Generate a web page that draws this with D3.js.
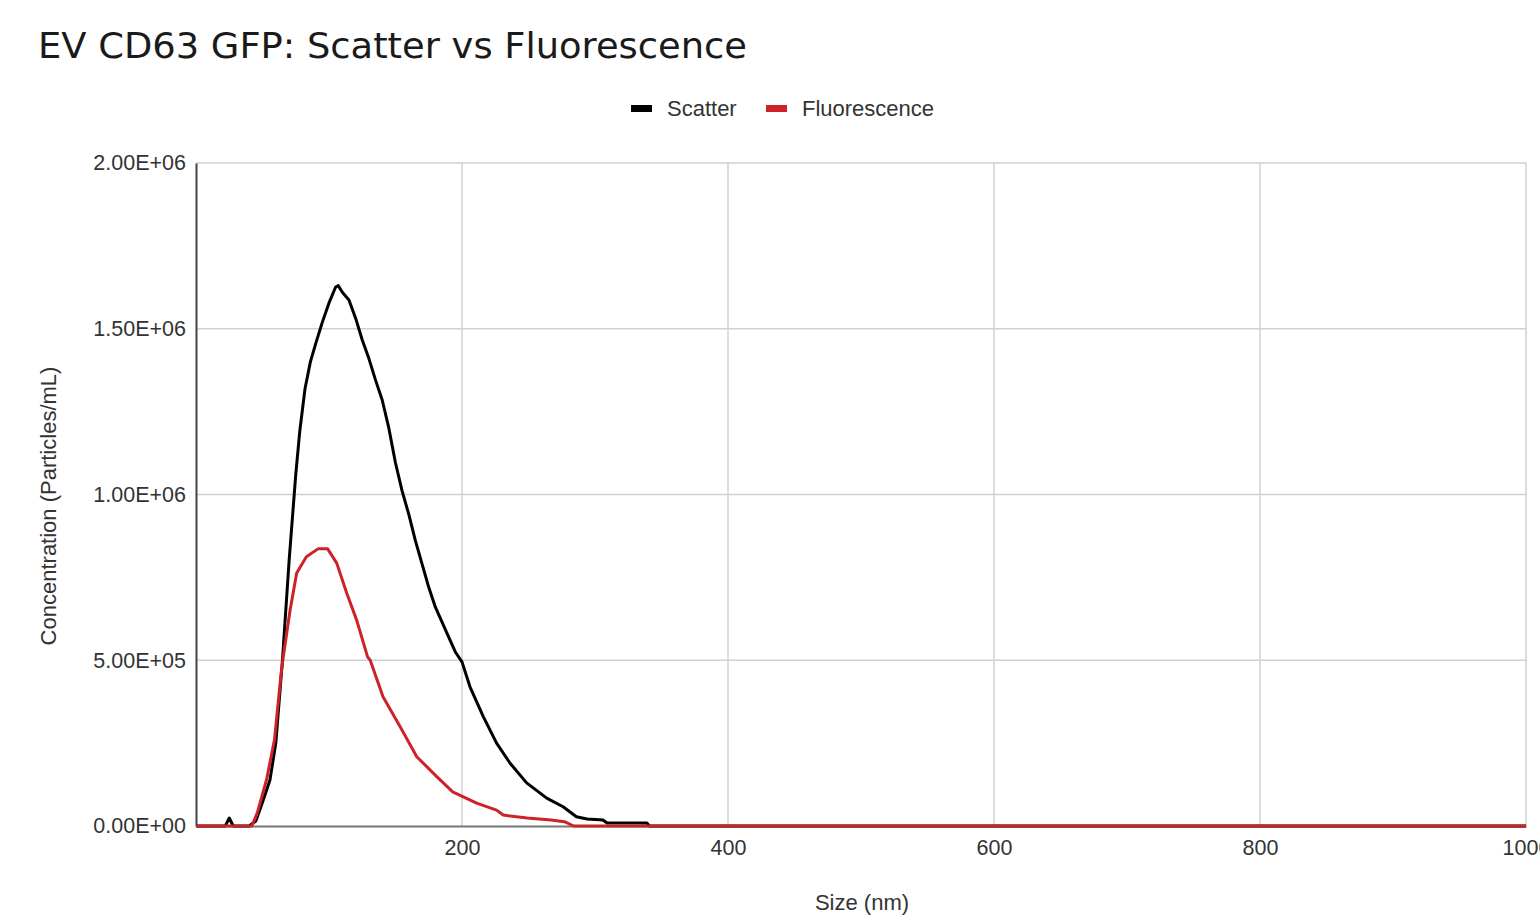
<!DOCTYPE html>
<html><head><meta charset="utf-8">
<script src="https://cdn.jsdelivr.net/npm/d3@7"></script>
<style>
html,body{margin:0;padding:0;background:#fff;}
svg{display:block;}
</style></head>
<body>
<svg id="chart" width="1540" height="915"></svg>
<script>
// Data (size in nm, concentration in particles/mL)
const scatterSize = [0, 20, 22, 25, 28, 40, 45, 50, 55.6, 60, 65, 70, 75, 78, 82, 86, 90, 95, 100, 105, 107, 110, 115, 120, 125, 130, 135, 140, 145, 150, 155, 160, 165, 170, 175, 180, 185, 190, 195, 200, 206, 216, 226, 236, 248.6, 263.7, 276, 286, 294, 306, 309, 339, 341, 1000];
const scatterConc = [0, 0, 0, 24000, 0, 0, 15000, 72000, 139000, 250000, 500000, 800000, 1060000, 1190000, 1320000, 1400000, 1455000, 1520000, 1578000, 1626000, 1630000, 1610000, 1587000, 1532000, 1466000, 1410000, 1345000, 1285000, 1200000, 1095000, 1010000, 940000, 860000, 790000, 720000, 660000, 615000, 570000, 525000, 495000, 420000, 330000, 250000, 190000, 130000, 84000, 58000, 28000, 21000, 18000, 9000, 9000, 0, 0];
const fluorSize = [0, 42, 46, 53, 59, 64, 65.6, 70.7, 75.7, 83, 91.7, 99, 105.8, 113.3, 120.8, 129, 131, 140.6, 153.4, 166, 181, 193, 211, 226, 231, 249, 267, 277, 284, 1000];
const fluorConc = [0, 0, 39000, 139000, 260000, 460000, 510000, 650000, 763000, 812000, 836000, 836000, 793000, 703000, 621000, 510000, 500000, 390000, 300000, 209000, 149000, 103000, 69000, 48000, 33000, 24000, 18000, 13000, 0, 0];
const xTicks = [200, 400, 600, 800, 1000];
const yTicks = [0, 500000, 1000000, 1500000, 2000000];
const seriesNames = ["Scatter", "Fluorescence"];
const seriesColors = ["#000000", "#cc2229"];

const svg = d3.select("#chart");
const pLeft = 196, pRight = 1526, pTop = 163, pBottom = 826;
const x = d3.scaleLinear().domain([0, 1000]).range([pLeft, pRight]);
const y = d3.scaleLinear().domain([0, 2000000]).range([pBottom, pTop]);
const FONT = "Liberation Sans, Arial, sans-serif";

function fmtE(v) {
  const s = d3.format(".2e")(v); // e.g. 2.00e+6
  const m = s.match(/^(-?[\d.]+)e([+-])(\d+)$/);
  return m[1] + "E" + m[2] + m[3].padStart(2, "0");
}

// Title
svg.append("text").attr("x", 38).attr("y", 58)
  .attr("font-family", "DejaVu Sans, Verdana, sans-serif")
  .attr("font-size", 35).attr("fill", "#1a1a1a")
  .attr("textLength", 709).attr("lengthAdjust", "spacingAndGlyphs")
  .text("EV CD63 GFP: Scatter vs Fluorescence");

// Grid
const grid = svg.append("g");
grid.selectAll("line.h").data(yTicks.filter(d => d > 0)).join("line")
  .attr("x1", pLeft).attr("x2", pRight).attr("y1", d => y(d)).attr("y2", d => y(d))
  .attr("stroke", "#d0d0d0").attr("stroke-width", 1.5);
grid.selectAll("line.v").data(xTicks).join("line")
  .attr("x1", d => x(d)).attr("x2", d => x(d)).attr("y1", pTop).attr("y2", pBottom)
  .attr("stroke", "#d0d0d0").attr("stroke-width", 1.5);

// Axes
const yAxis = d3.axisLeft(y).tickValues(yTicks).tickFormat(fmtE).tickSize(0).tickPadding(10);
const gy = svg.append("g").attr("transform", `translate(${pLeft},0)`).call(yAxis);
gy.select(".domain").attr("stroke", "#444").attr("stroke-width", 2);
gy.selectAll("text").attr("font-family", FONT)
  .attr("font-size", 21.5).attr("fill", "#333");

const xAxis = d3.axisBottom(x).tickValues(xTicks).tickFormat(d3.format("d")).tickSize(0).tickPadding(12);
const gx = svg.append("g").attr("transform", `translate(0,${pBottom})`).call(xAxis);
gx.select(".domain").attr("stroke", "#777").attr("stroke-width", 2);
gx.selectAll("text").attr("font-family", FONT)
  .attr("font-size", 21.5).attr("fill", "#333").attr("dy", "0.8em");

// Axis titles
svg.append("text").attr("x", 862).attr("y", 910).attr("text-anchor", "middle")
  .attr("font-family", FONT).attr("font-size", 22).attr("fill", "#333")
  .text("Size (nm)");
svg.append("text").attr("transform", "translate(56,506) rotate(-90)").attr("text-anchor", "middle")
  .attr("font-family", FONT).attr("font-size", 22).attr("fill", "#333")
  .text("Concentration (Particles/mL)");

// Lines
const line = d3.line().x(d => x(d[0])).y(d => y(d[1]));
const seriesData = [
  d3.zip(scatterSize, scatterConc),
  d3.zip(fluorSize, fluorConc)
];
svg.append("g").selectAll("path").data(seriesData).join("path")
  .attr("d", line).attr("fill", "none")
  .attr("stroke", (d, i) => seriesColors[i]).attr("stroke-width", 3)
  .attr("stroke-linejoin", "round");

// Legend
const legendX = [631, 766];
const lg = svg.append("g");
seriesNames.forEach((name, i) => {
  lg.append("rect").attr("x", legendX[i]).attr("y", 105).attr("width", 21).attr("height", 7)
    .attr("fill", seriesColors[i]);
  lg.append("text").attr("x", legendX[i] + 36).attr("y", 116)
    .attr("font-family", FONT).attr("font-size", 22).attr("fill", "#333")
    .text(name);
});
</script>
</body></html>
